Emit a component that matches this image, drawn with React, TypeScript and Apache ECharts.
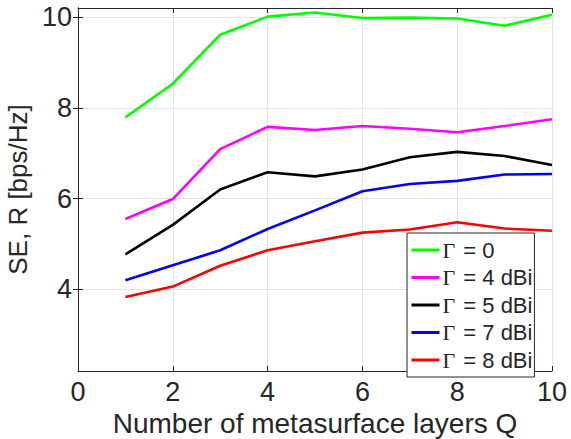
import React, { useEffect, useRef } from "react";
import * as echarts from "echarts";

const layersQ = [1, 2, 3, 4, 5, 6, 7, 8, 9, 10];
const gamma0 = [7.79, 8.53, 9.61, 10.01, 10.1, 9.98, 9.99, 9.97, 9.81, 10.05];
const gamma4 = [5.55, 5.99, 7.09, 7.58, 7.51, 7.6, 7.54, 7.46, 7.6, 7.75];
const gamma5 = [4.77, 5.42, 6.2, 6.58, 6.49, 6.64, 6.91, 7.03, 6.94, 6.74];
const gamma7 = [4.2, 4.53, 4.86, 5.33, 5.74, 6.16, 6.32, 6.39, 6.53, 6.54];
const gamma8 = [3.83, 4.06, 4.52, 4.86, 5.06, 5.25, 5.32, 5.48, 5.34, 5.29];
const seriesNames = ["Γ = 0", "Γ = 4 dBi", "Γ = 5 dBi", "Γ = 7 dBi", "Γ = 8 dBi"];
const seriesColors = ["#00ff00", "#ff00ff", "#000000", "#0000ff", "#ff0000"];
const yTicks = [4, 6, 8, 10];

const FONT = "'Liberation Sans', Arial, Helvetica, sans-serif";
const SERIF = "'Liberation Serif', 'DejaVu Serif', serif";
const AX = "#262626";

export default function App() {
  const ref = useRef<HTMLDivElement>(null);
  useEffect(() => {
    if (!ref.current) return;
    const chart = echarts.init(ref.current, undefined, { renderer: "svg" });
    const allData = [gamma0, gamma4, gamma5, gamma7, gamma8];
    const axisLineStyle = { show: true, lineStyle: { color: AX, width: 1 } };
    chart.setOption({
      animation: false,
      backgroundColor: "#ffffff",
      textStyle: { fontFamily: FONT },
      grid: { left: 78, right: 19, top: 8, bottom: 68, containLabel: false, outerBoundsMode: "none" },
      legend: {
        orient: "vertical",
        left: 407,
        top: 233,
        padding: [6, 2, 6, 3],
        itemGap: 5.5,
        itemWidth: 28,
        itemHeight: 20,
        borderColor: AX,
        borderWidth: 1,
        borderRadius: 0,
        backgroundColor: "#ffffff",
        itemStyle: { opacity: 0 },
        lineStyle: { width: 3 },
        data: seriesNames,
        formatter: (name: string) => {
          const rest = name.slice(1);
          return "{g|Γ}{t|" + rest + "}";
        },
        textStyle: {
          color: AX,
          fontSize: 22,
          lineHeight: 20,
          padding: [0, 0, 0, -2],
          rich: {
            g: { fontFamily: SERIF, fontSize: 22, lineHeight: 20, color: AX, padding: [0, 2, 0, 0] },
            t: { fontFamily: FONT, fontSize: 22, lineHeight: 20, color: AX },
          },
        },
      },
      xAxis: [
        {
          type: "value",
          min: 0,
          max: 10,
          interval: 2,
          name: "Number of metasurface layers Q",
          nameLocation: "middle",
          nameGap: 36,
          nameTextStyle: { fontSize: 28, color: AX, fontFamily: FONT },
          axisLine: axisLineStyle,
          axisTick: { show: true, inside: true, length: 5, lineStyle: { color: AX } },
          axisLabel: { fontSize: 27, color: AX, margin: 7, fontFamily: FONT },
          splitLine: { show: true, lineStyle: { color: "#e3e3e3", width: 1 } },
        },
        {
          type: "value",
          position: "top",
          min: 0,
          max: 10,
          interval: 2,
          axisLine: axisLineStyle,
          axisTick: { show: true, inside: true, length: 5, lineStyle: { color: AX } },
          axisLabel: { show: false },
          splitLine: { show: false },
        },
      ],
      yAxis: [
        {
          type: "value",
          min: 2.2,
          max: 10.2,
          name: "SE, R [bps/Hz]",
          nameLocation: "middle",
          nameGap: 39,
          nameRotate: 90,
          nameTextStyle: { fontSize: 26, color: AX, fontFamily: FONT },
          axisLine: axisLineStyle,
          axisTick: { show: true, inside: true, length: 5, customValues: yTicks, lineStyle: { color: AX } },
          axisLabel: { fontSize: 27, color: AX, margin: 6, customValues: yTicks, fontFamily: FONT },
          splitLine: { show: true, lineStyle: { color: "#e3e3e3", width: 1 } },
        },
        {
          type: "value",
          position: "right",
          min: 2.2,
          max: 10.2,
          axisLine: axisLineStyle,
          axisTick: { show: true, inside: true, length: 5, customValues: yTicks, lineStyle: { color: AX } },
          axisLabel: { show: false, customValues: yTicks },
          splitLine: { show: false },
        },
      ],
      series: allData.map((d, i) => ({
        name: seriesNames[i],
        type: "line",
        xAxisIndex: 0,
        yAxisIndex: 0,
        symbol: "none",
        data: layersQ.map((q, j) => [q, d[j]]),
        lineStyle: { color: seriesColors[i], width: 2.6 },
        itemStyle: { color: seriesColors[i] },
        z: 10 - i,
      })),
    });
    return () => chart.dispose();
  }, []);
  return (
    <div
      ref={ref}
      style={{ position: "absolute", left: 0, top: 0, width: 571, height: 439 }}
    />
  );
}
